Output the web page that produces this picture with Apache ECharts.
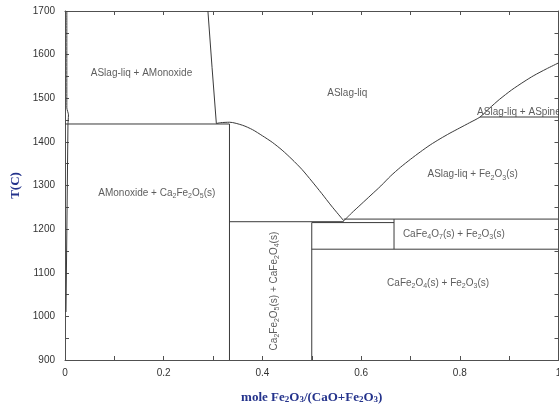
<!DOCTYPE html>
<html>
<head>
<meta charset="utf-8">
<script src="https://cdn.jsdelivr.net/npm/echarts@6/dist/echarts.min.js"></script>
<style>
  html, body { margin: 0; padding: 0; background: #fff; }
  #chart { width: 559px; height: 407px; }
</style>
</head>
<body>
<div id="chart"></div>
<script>
// Axis ranges and tick spacing
const xRange = [0, 1];
const xStep = 0.2;
const tRange = [900, 1700];
const tStep = 100;

// Phase boundaries, each as [mole fraction Fe2O3, T (C)]
const caoLiquidus      = [[0.0037, 1700], [0.0037, 1478], [0.007, 1462], [0.0065, 1450], [0.006, 1441]];
const caoSolidus       = [[0.006, 1441], [0.002, 1010]];
const monoxideLiquidus = [[0.2896, 1700], [0.298, 1570], [0.3067, 1442]];
const monoxideLine     = [[0, 1441], [0.3333, 1441]];
const c2fLiquidus      = [[0.3067, 1442], [0.315, 1444], [0.3337, 1445], [0.36, 1438], [0.38, 1428],
                          [0.40, 1414], [0.42, 1399], [0.44, 1381], [0.46, 1360], [0.48, 1337],
                          [0.50, 1310], [0.52, 1282], [0.54, 1253], [0.565, 1219]];
const hematiteLiquidus = [[0.565, 1219], [0.58, 1236], [0.60, 1257], [0.62, 1278], [0.64, 1299],
                          [0.66, 1322], [0.68, 1342], [0.70, 1360], [0.72, 1377], [0.74, 1393],
                          [0.76, 1407], [0.78, 1420], [0.80, 1432], [0.82, 1444], [0.841, 1457],
                          [0.86, 1477], [0.88, 1497], [0.905, 1519], [0.93, 1538], [0.95, 1552],
                          [0.975, 1567], [1, 1581]];
const spinelLine       = [[0.841, 1457], [1, 1457]];
const c2fLine          = [[0.3333, 1441], [0.3333, 900]];
const eutecticLine     = [[0.3333, 1217], [0.565, 1217]];
const hematiteSolidus  = [[0.565, 1223], [1, 1223]];
const cfLine           = [[0.5, 1215], [0.5, 900]];
const cf2Top           = [[0.5, 1215], [0.6667, 1215]];
const cf2Line          = [[0.6667, 1223], [0.6667, 1154]];
const cf2Bottom        = [[0.5, 1154], [1, 1154]];

const boundaries = [caoLiquidus, caoSolidus, monoxideLiquidus, monoxideLine, c2fLiquidus,
  hematiteLiquidus, spinelLine, c2fLine, eutecticLine, hematiteSolidus, cfLine, cf2Top, cf2Line, cf2Bottom];

// Phase field names ({s|..} marks a subscript)
const fieldLabels = [
  [0.155, 1557, 'ASlag-liq + AMonoxide'],
  [0.572, 1511, 'ASlag-liq'],
  [0.186, 1283, 'AMonoxide + Ca{s|2}Fe{s|2}O{s|5}(s)'],
  [0.826, 1325, 'ASlag-liq + Fe{s|2}O{s|3}(s)'],
  [0.788, 1188, 'CaFe{s|4}O{s|7}(s) + Fe{s|2}O{s|3}(s)'],
  [0.756, 1077, 'CaFe{s|2}O{s|4}(s) + Fe{s|2}O{s|3}(s)']
];
const edgeLabels = [
  [0.835, 1452, 'ASlag-liq + ASpinel']
];
const verticalLabels = [
  [0.423, 1058, 'Ca{s|2}Fe{s|2}O{s|5}(s) + CaFe{s|2}O{s|4}(s)']
];

const lineColor = '#3a3a3a';
const textColor = '#333';
const nameColor = '#24338c';
const richSub = {
  s: { fontSize: 7, lineHeight: 8, verticalAlign: 'bottom', fontFamily: 'Liberation Sans, Arial, sans-serif', color: textColor }
};
const nameRich = {
  s: { fontSize: 9, lineHeight: 9, verticalAlign: 'bottom', fontFamily: 'Liberation Serif, Times New Roman, serif',
       fontWeight: 'bold', color: nameColor }
};

function labelSeries(points, labelOpts) {
  return {
    type: 'scatter',
    silent: true,
    symbolSize: 1,
    itemStyle: { color: 'rgba(0,0,0,0)' },
    data: points.map(p => ({ value: [p[0], p[1]], name: p[2] })),
    label: Object.assign({
      show: true,
      position: 'inside',
      formatter: d => d.name,
      color: textColor,
      fontSize: 10,
      lineHeight: 13,
      fontFamily: 'Liberation Sans, Arial, sans-serif',
      rich: richSub
    }, labelOpts)
  };
}

const axisBase = {
  type: 'value',
  axisLine: { show: true, onZero: false, lineStyle: { color: '#505050', width: 1 } },
  axisTick: { show: true, inside: true, length: 4, lineStyle: { color: '#505050' } },
  minorTick: { show: true, splitNumber: 2, length: 4, lineStyle: { color: '#505050' } },
  splitLine: { show: false },
  nameTextStyle: {
    color: nameColor, fontSize: 13, fontWeight: 'bold',
    fontFamily: 'Liberation Serif, Times New Roman, serif', rich: nameRich
  },
  axisLabel: { color: textColor, fontSize: 10, fontFamily: 'Liberation Sans, Arial, sans-serif' }
};

function xAxis(pos, withLabels) {
  return Object.assign({}, axisBase, {
    position: pos, min: xRange[0], max: xRange[1], interval: xStep,
    axisLabel: Object.assign({}, axisBase.axisLabel, {
      show: withLabels, margin: 8, hideOverlap: false,
      formatter: v => String(+v.toFixed(1))
    }),
    name: withLabels ? 'mole Fe{s|2}O{s|3}/(CaO+Fe{s|2}O{s|3})' : '',
    nameLocation: 'middle', nameGap: 31
  });
}
function yAxis(pos, withLabels) {
  return Object.assign({}, axisBase, {
    position: pos, min: tRange[0], max: tRange[1], interval: tStep,
    axisLabel: Object.assign({}, axisBase.axisLabel, {
      show: withLabels, margin: 10, formatter: v => String(v)
    }),
    name: withLabels ? 'T(C)' : '',
    nameLocation: 'middle', nameGap: 37
  });
}

const chart = echarts.init(document.getElementById('chart'), null, { renderer: 'canvas' });
chart.setOption({
  animation: false,
  backgroundColor: '#fff',
  grid: { left: 65, right: 0.5, top: 11, bottom: 47, containLabel: false, outerBoundsMode: 'none' },
  xAxis: [xAxis('bottom', true), xAxis('top', false)],
  yAxis: [yAxis('left', true), yAxis('right', false)],
  series: boundaries.map(pts => ({
    type: 'line',
    silent: true,
    symbol: 'none',
    data: pts,
    lineStyle: { color: lineColor, width: 1 },
    smooth: pts.length > 4 ? 0.25 : false
  })).concat([
    labelSeries(fieldLabels, {}),
    labelSeries(edgeLabels, { align: 'left', verticalAlign: 'bottom' }),
    labelSeries(verticalLabels, { rotate: 90 })
  ])
});
</script>
</body>
</html>
